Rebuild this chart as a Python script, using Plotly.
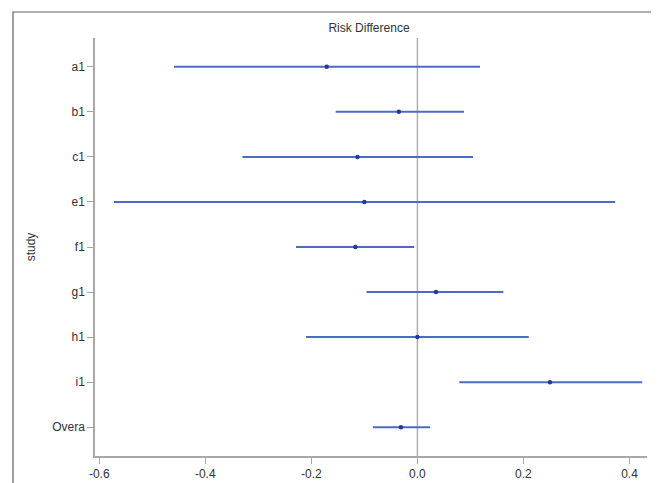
import plotly.graph_objects as go

studies = ["a1", "b1", "c1", "e1", "f1", "g1", "h1", "i1", "Overa"]
estimate = [-0.171, -0.035, -0.113, -0.100, -0.117, 0.035, 0.000, 0.250, -0.031]
lower = [-0.459, -0.154, -0.330, -0.572, -0.229, -0.096, -0.210, 0.079, -0.084]
upper = [0.118, 0.088, 0.105, 0.373, -0.006, 0.162, 0.210, 0.424, 0.024]
x_ticks = [-0.6, -0.4, -0.2, 0.0, 0.2, 0.4]
x_tick_labels = ["-0.6", "-0.4", "-0.2", "0.0", "0.2", "0.4"]

yidx = list(range(len(studies)))
err_plus = [u - e for u, e in zip(upper, estimate)]
err_minus = [e - l for e, l in zip(estimate, lower)]

fig = go.Figure()
fig.add_trace(go.Scatter(
    x=estimate, y=yidx, mode="markers",
    marker=dict(color="#1f3c99", size=4.5, symbol="circle"),
    error_x=dict(type="data", array=err_plus, arrayminus=err_minus,
                 color="#4a6cc4", thickness=2, width=0),
    showlegend=False,
))

# page body has an 8px margin; figure coordinates are offset by it
OFF = 8
W, H = 659 - 2 * OFF, 483 - OFF
L, T = 95 - OFF, 38 - OFF
R = W - (647 - OFF)
B = H - (456 - OFF)
pw, ph = W - L - R, H - T - B

fig.add_shape(type="line", xref="x", yref="paper", x0=0, x1=0, y0=0, y1=1,
              line=dict(color="#b0b0b0", width=1.5), layer="below")
# outer frame
fig.add_shape(type="rect", xref="paper", yref="paper",
              x0=(13 - OFF - L) / pw, x1=(655 - OFF - L) / pw,
              y0=-0.3, y1=(H - B - (12 - OFF)) / ph,
              line=dict(color="#606060", width=1.2))

fig.update_layout(
    width=W, height=H,
    margin=dict(l=L, r=R, t=T, b=B, autoexpand=False),
    paper_bgcolor="white", plot_bgcolor="white",
    font=dict(family="Liberation Sans, Arial, sans-serif", color="#333333", size=12),
    title=dict(text="Risk Difference", x=(369 - OFF) / W, xanchor="center",
               y=1 - (28 - OFF) / H, yanchor="middle",
               font=dict(size=12, color="#333333")),
    xaxis=dict(range=[-0.608, 0.433], tickvals=x_ticks, ticktext=x_tick_labels,
               showgrid=False, zeroline=False, showline=True, linecolor="#a8a8a8",
               linewidth=1.5, ticks="outside", ticklen=6, tickcolor="#a8a8a8",
               automargin=False),
    yaxis=dict(range=[8.64, -0.64], tickvals=yidx, ticktext=studies,
               showgrid=False, zeroline=False, showline=True, linecolor="#a8a8a8",
               linewidth=1.5, ticks="outside", ticklen=6, tickcolor="#a8a8a8",
               tickwidth=1.2, ticksuffix="\u00a0", automargin=False,
               title=dict(text="study", standoff=14, font=dict(size=12))),
)

fig.write_html("out.html")
